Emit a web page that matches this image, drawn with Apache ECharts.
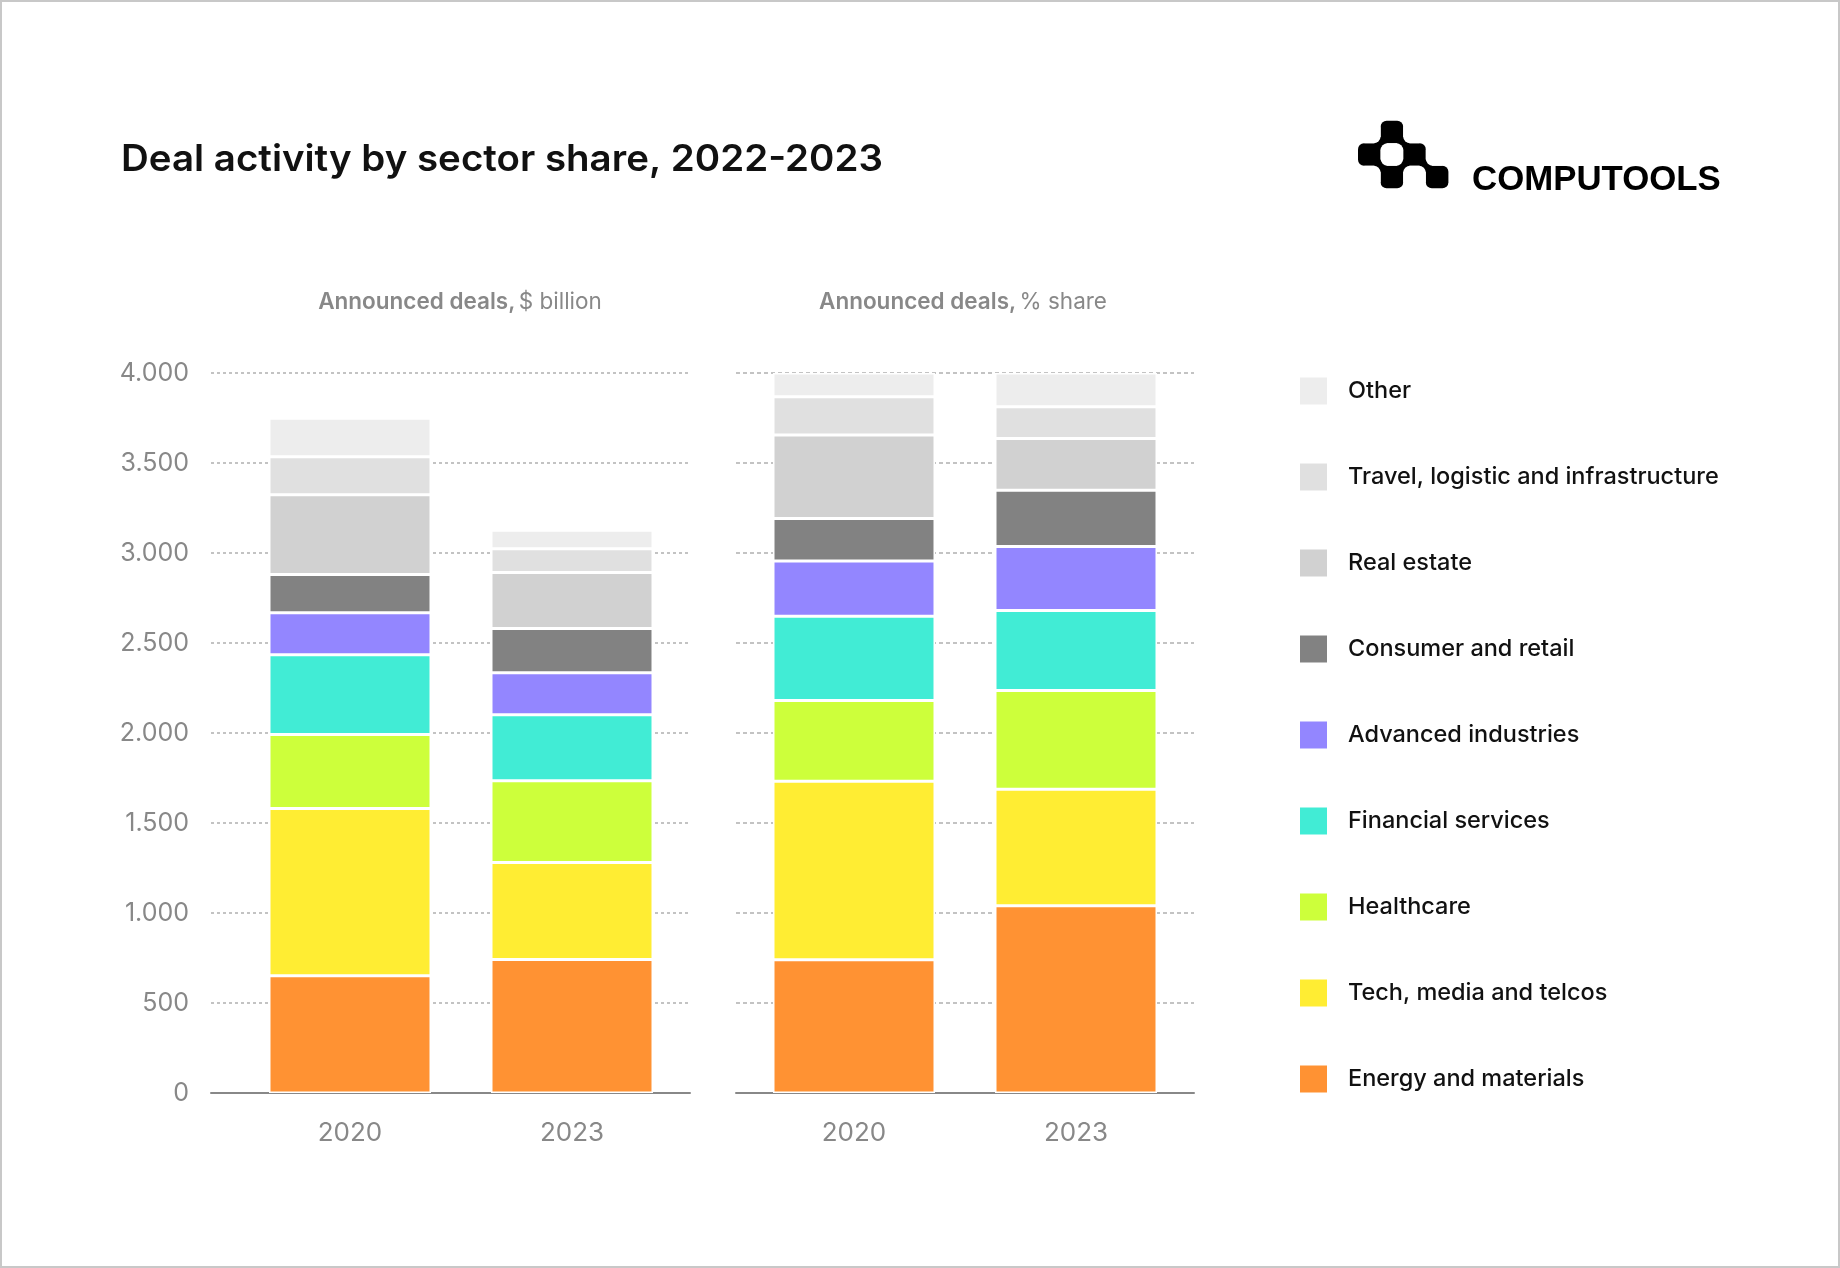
<!DOCTYPE html>
<html>
<head>
<meta charset="utf-8">
<script src="https://cdn.jsdelivr.net/npm/echarts@6/dist/echarts.min.js"></script>
<style>
html,body{margin:0;padding:0;background:#fff;}
#chart{width:1840px;height:1268px;}
</style>
</head>
<body>
<div id="chart"></div>
<script>
// ---- data ----
const categories = ['2020', '2023'];
const sectors = ['Energy and materials', 'Tech, media and telcos', 'Healthcare', 'Financial services',
  'Advanced industries', 'Consumer and retail', 'Real estate', 'Travel, logistic and infrastructure', 'Other'];
// Announced deals, $ billion (bottom to top)
const billion2020 = [652, 928, 411, 444, 233, 212, 444, 211, 213];
const billion2023 = [741, 539, 455, 367, 233, 245, 311, 133, 102];
// Announced deals, % share (bottom to top)
const share2020 = [18.5, 24.8, 11.2, 11.7, 7.7, 5.9, 11.6, 5.3, 3.3];
const share2023 = [26.0, 16.2, 13.7, 11.1, 8.9, 7.8, 7.2, 4.4, 4.7];
const yTickLabels = ['0', '500', '1.000', '1.500', '2.000', '2.500', '3.000', '3.500', '4.000'];

const colors = ['#ff9233', '#ffed33', '#cdff3b', '#41ecd5', '#9386ff', '#828282', '#d1d1d1', '#e0e0e0', '#ededed'];

const FONT = 'Inter';
const chart = echarts.init(document.getElementById('chart'), null, {renderer: 'canvas'});

const seriesList = [];
sectors.forEach((name, i) => {
  seriesList.push({
    name, type: 'bar', stack: 'bn', xAxisIndex: 1, yAxisIndex: 1,
    barWidth: 162, data: [billion2020[i], billion2023[i]],
    itemStyle: {color: colors[i], borderColor: '#fff', borderWidth: 1.5},
    emphasis: {disabled: true}
  });
});
sectors.forEach((name, i) => {
  seriesList.push({
    name, type: 'bar', stack: 'sh', xAxisIndex: 3, yAxisIndex: 3,
    barWidth: 162, data: [share2020[i], share2023[i]],
    itemStyle: {color: colors[i], borderColor: '#fff', borderWidth: 1.5},
    emphasis: {disabled: true}
  });
});

// logo icon (metaball checkerboard)
const LX = 1358, LY = 120.7, CW = 22.6, CH = 22.5;
const blackCells = [[1, 0], [0, 1], [2, 1], [1, 2], [3, 2]];
const junctions = [[1, 1], [2, 1], [1, 2], [2, 2], [3, 2]];
const whiteCells = [[0, 0], [2, 0], [1, 1], [3, 1], [0, 2], [2, 2]];
const logoChildren = [];
blackCells.forEach(([c, r]) => logoChildren.push({type: 'rect', shape: {x: LX + c * CW, y: LY + r * CH, width: CW, height: CH, r: 6}, style: {fill: '#000'}}));
junctions.forEach(([c, r]) => logoChildren.push({type: 'rect', shape: {x: LX + c * CW - 6, y: LY + r * CH - 6, width: 12, height: 12}, style: {fill: '#000'}}));
whiteCells.forEach(([c, r]) => logoChildren.push({type: 'rect', shape: {x: LX + c * CW, y: LY + r * CH, width: CW, height: CH, r: 7}, style: {fill: '#fff'}}));

const gridTop = 373, gridBottom = 1268 - 1093;
const frameX = (gi) => ({
  type: 'category', data: categories, gridIndex: gi, boundaryGap: true,
  axisLine: {show: true, lineStyle: {color: '#888', width: 2}},
  axisTick: {show: false}, axisLabel: {show: false}, splitLine: {show: false}
});
const barX = (gi) => ({
  type: 'category', data: categories, gridIndex: gi,
  axisLine: {show: false}, axisTick: {show: false},
  axisLabel: {show: true, fontFamily: FONT, fontSize: 26, color: '#888', margin: 27}
});

chart.setOption({
  animation: false,
  backgroundColor: '#fff',
  grid: [
    {left: 211, width: 479, top: gridTop, bottom: gridBottom},
    {left: 239, width: 444, top: gridTop, bottom: gridBottom},
    {left: 736, width: 458, top: gridTop, bottom: gridBottom},
    {left: 743, width: 444, top: gridTop, bottom: gridBottom}
  ],
  xAxis: [frameX(0), barX(1), frameX(2), barX(3)],
  yAxis: [
    {type: 'value', gridIndex: 0, min: 0, max: 4000, interval: 500,
     axisLine: {show: false}, axisTick: {show: false},
     axisLabel: {fontFamily: FONT, fontSize: 25, color: '#888', margin: 22,
       padding: [4, 0, 0, 0],
       formatter: (v, idx) => yTickLabels[idx]},
     splitLine: {show: true, lineStyle: {color: '#b0b0b0', width: 1.5, type: [3, 3]}}},
    {type: 'value', gridIndex: 1, min: 0, max: 4000, show: false, splitLine: {show: false}},
    {type: 'value', gridIndex: 2, min: 0, max: 100, interval: 12.5,
     axisLine: {show: false}, axisTick: {show: false}, axisLabel: {show: false},
     splitLine: {show: true, lineStyle: {color: '#b0b0b0', width: 1.5, type: [4, 3]}}},
    {type: 'value', gridIndex: 3, min: 0, max: 100, show: false, splitLine: {show: false}}
  ],
  legend: {
    orient: 'vertical', left: 1295, top: 372.5,
    itemWidth: 27, itemHeight: 27, itemGap: 59, icon: 'rect',
    data: sectors.slice().reverse(),
    itemStyle: {borderWidth: 0},
    textStyle: {fontFamily: FONT, fontSize: 23.5, fontWeight: 500, color: '#111', padding: [0, 0, 0, 16]},
    selectedMode: false
  },
  graphic: [
    {type: 'rect', shape: {x: 1, y: 1, width: 1838, height: 1266}, style: {fill: 'none', stroke: '#c8c8c8', lineWidth: 2}, silent: true},
    {type: 'text', x: 121, y: 160, scaleX: 1.04, style: {text: 'Deal activity by sector share, 2022-2023', font: '600 37px Inter', fill: '#111', align: 'left', verticalAlign: 'middle'}},
    {type: 'text', x: 460, y: 302, style: {
      text: '{b|Announced deals,} {r|$ billion}', align: 'center', verticalAlign: 'middle',
      rich: {b: {fontFamily: FONT, fontSize: 22.5, fontWeight: 600, fill: '#888'}, r: {fontFamily: FONT, fontSize: 22.5, fontWeight: 400, fill: '#888'}}}},
    {type: 'text', x: 963, y: 302, style: {
      text: '{b|Announced deals,} {r|% share}', align: 'center', verticalAlign: 'middle',
      rich: {b: {fontFamily: FONT, fontSize: 22.5, fontWeight: 600, fill: '#888'}, r: {fontFamily: FONT, fontSize: 22.5, fontWeight: 400, fill: '#888'}}}},
    {type: 'group', children: logoChildren},
    {type: 'text', x: 1472, y: 180, style: {text: 'COMPUTOOLS', font: 'bold 34.8px "Liberation Sans"', fill: '#000', align: 'left', verticalAlign: 'middle'}}
  ],
  series: seriesList
});
</script>
</body>
</html>
